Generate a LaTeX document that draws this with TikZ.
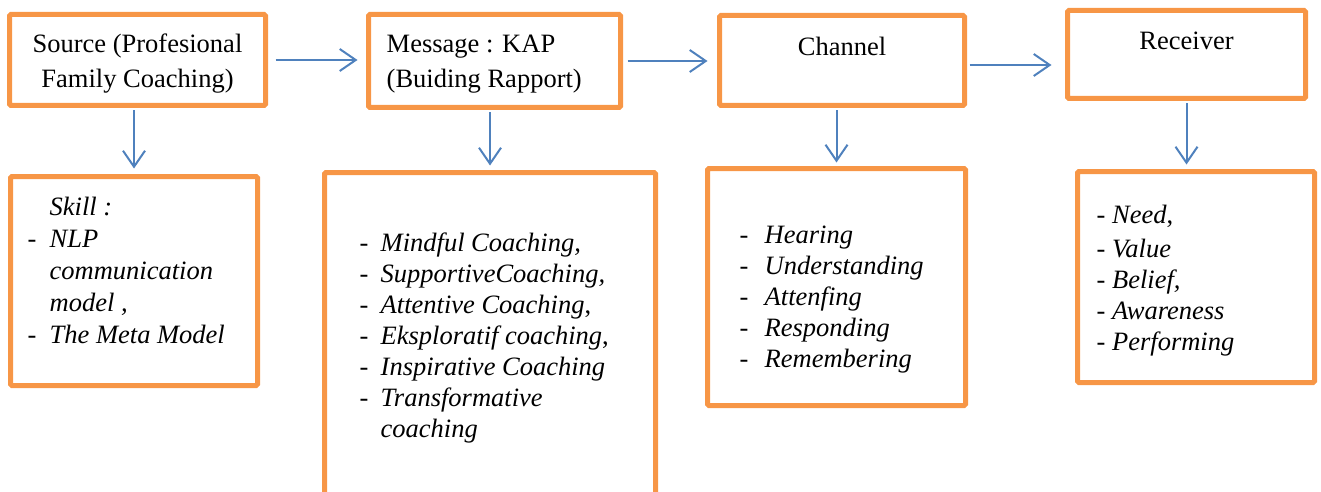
\documentclass[tikz,border=0pt]{standalone}
\usepackage{fontspec}
\setmainfont{Liberation Serif}
\usepackage{xcolor}
\usepackage{tikz}
\usetikzlibrary{arrows.meta}
\definecolor{boxline}{HTML}{F79646}
\definecolor{arline}{HTML}{4F81BD}
\tikzset{
  box/.style  = {draw=boxline, line width=5pt, rounded corners=1.5pt, inner sep=0pt},
  txt/.style  = {inner sep=0pt, font=\fontsize{26.5}{35}\selectfont},
  itm/.style  = {inner sep=0pt, font=\fontsize{26.5}{31}\selectfont},
  ar/.style   = {-{Straight Barb[length=16pt,width=22pt]}, draw=arline, line width=2pt},
}

\begin{document}
\begin{tikzpicture}[x=1pt,y=1pt]
  \useasboundingbox (0,0) rectangle (1321,-492);
  \clip (0,0) rectangle (1321,-492);
  \node[box, minimum width=256pt, minimum height=91pt] (src) at (137.5,-60) {};
  \node[box, minimum width=252pt, minimum height=93pt] (msg) at (494.5,-61) {};
  \node[box, minimum width=245pt, minimum height=90pt] (chn) at (842,-60.5) {};
  \node[box, minimum width=238pt, minimum height=88pt] (rcv) at (1186.5,-54.5) {};
  \node[box, minimum width=247pt, minimum height=209pt] (skl) at (134,-281) {};
  \node[box, minimum width=331pt, minimum height=332pt] (mls) at (490,-338.5) {};
  \node[box, minimum width=258pt, minimum height=237pt] (cls) at (836.5,-287) {};
  \node[box, minimum width=237pt, minimum height=211pt] (rls) at (1196,-277) {};

  \node[txt, anchor=base] (srct) at ([yshift=-40.5pt]src.north)
    {\begin{tabular}[t]{@{}c@{}}Source (Profesional\\Family Coaching)\end{tabular}};
  \node[txt, anchor=base west] (msgt) at ([xshift=20.5pt,yshift=-40.5pt]msg.north west)
    {\begin{tabular}[t]{@{}l@{}}Message : KAP\\(Buiding Rapport)\end{tabular}};
  \node[txt, anchor=base] (chnt) at ([yshift=-42.5pt]chn.north) {Channel};
  \node[txt, anchor=base] (rcvt) at ([yshift=-41.5pt]rcv.north) {Receiver};

  \node[itm, font=\fontsize{26.5}{32}\selectfont, anchor=base west] (sklt)
    at ([xshift=19.5pt,yshift=-41pt]skl.north west)
    {\begin{tabular}[t]{@{}p{22pt}@{}l@{}}
      & \textit{Skill :}\\
     -& \textit{NLP}\\
      & \textit{communication}\\
      & \textit{model ,}\\
     -& \textit{The Meta Model}
    \end{tabular}};
  \node[itm, anchor=base west] (mlst) at ([xshift=37.5pt,yshift=-81pt]mls.north west)
    {\begin{tabular}[t]{@{}p{21pt}@{}l@{}}
     -& \textit{Mindful Coaching,}\\
     -& \textit{SupportiveCoaching,}\\
     -& \textit{Attentive Coaching},\\
     -& \textit{Eksploratif coaching},\\
     -& \textit{Inspirative Coaching}\\
     -& \textit{Transformative}\\
      & \textit{coaching}
    \end{tabular}};
  \node[itm, anchor=base west] (clst) at ([xshift=34.5pt,yshift=-77.5pt]cls.north west)
    {\begin{tabular}[t]{@{}p{25pt}@{}l@{}}
     -& \textit{Hearing}\\
     -& \textit{Understanding}\\
     -& \textit{Attenfing}\\
     -& \textit{Responding}\\
     -& \textit{Remembering}
    \end{tabular}};
  \node[itm, anchor=base west] (rlst) at ([xshift=21.5pt,yshift=-54pt]rls.north west)
    {\begin{tabular}[t]{@{}l@{}}
     - \textit{Need},\\[3pt]
     - \textit{Value}\\
     - \textit{Belief,}\\
     - \textit{Awareness}\\
     - \textit{Performing}
    \end{tabular}};

  \draw[ar, shorten <=7.5pt, shorten >=8.5pt] (src.east) -- (src.east -| msg.west);
  \draw[ar, shorten <=4.5pt, shorten >=9.5pt] (msg.east) -- (msg.east -| chn.west);
  \draw[ar, shorten <=2.5pt, shorten >=13.5pt] ([yshift=-4.5pt]chn.east) -- ([yshift=-4.5pt]chn.east -| rcv.west);
  \draw[ar, shorten <=2.5pt, shorten >=5.5pt] (skl.north |- src.south) -- (skl.north);
  \draw[ar, shorten <=2.5pt, shorten >=4.5pt] (mls.north |- msg.south) -- (mls.north);
  \draw[ar, shorten <=2.5pt, shorten >=3.5pt] (cls.north |- chn.south) -- (cls.north);
  \draw[ar, shorten <=2.5pt, shorten >=4.5pt] (rcv.south) -- (rcv.south |- rls.north);
\end{tikzpicture}
\end{document}
